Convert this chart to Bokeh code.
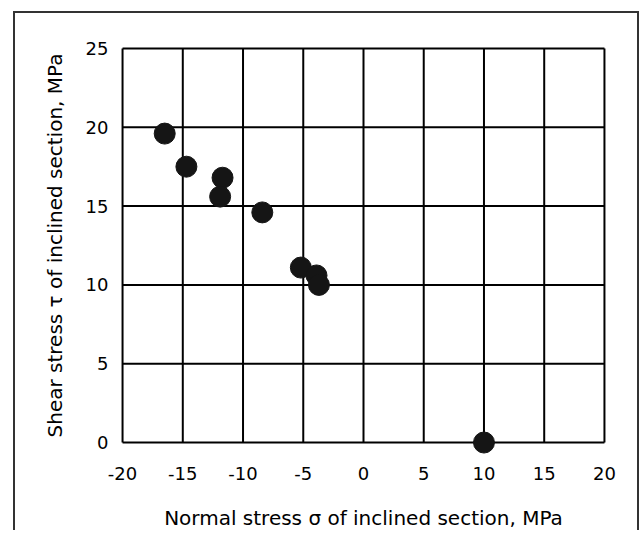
from bokeh.plotting import figure
from bokeh.models import Range1d, FixedTicker
from bokeh.embed import file_html
from bokeh.resources import INLINE

# data
sigma = [-16.5, -14.7, -11.7, -11.9, -8.4, -5.2, -3.9, -3.7, 10.0]
tau = [19.6, 17.5, 16.8, 15.6, 14.6, 11.1, 10.6, 10.0, 0.0]
x_ticks = [-20, -15, -10, -5, 0, 5, 10, 15, 20]
y_ticks = [0, 5, 10, 15, 20, 25]

FONT = "DejaVu Sans"

p = figure(width=626, height=519, output_backend="svg", toolbar_location=None,
           x_range=Range1d(-21, 21), y_range=Range1d(-0.76, 25.76),
           min_border_left=95, min_border_right=25,
           min_border_top=23, min_border_bottom=71)
p.margin = (11, 0, 0, 13)

p.styles = {"border-left": "2px solid #333", "border-top": "2px solid #333",
            "border-right": "2px solid #333"}

p.background_fill_color = "white"
p.border_fill_color = "white"
p.outline_line_color = None
p.xgrid.visible = False
p.ygrid.visible = False

for ax in (p.xaxis, p.yaxis):
    ax.axis_line_color = None
    ax.major_tick_line_color = None
    ax.minor_tick_line_color = None
    ax.major_label_text_font = FONT
    ax.major_label_text_font_size = "18px"
    ax.major_label_text_color = "black"
    ax.axis_label_text_font = FONT
    ax.axis_label_text_font_size = "20px"
    ax.axis_label_text_font_style = "normal"
    ax.axis_label_text_color = "black"

p.xaxis.ticker = FixedTicker(ticks=x_ticks)
p.yaxis.ticker = FixedTicker(ticks=y_ticks)
p.xaxis.major_label_overrides = {t: str(t) for t in x_ticks}
p.yaxis.major_label_overrides = {t: str(t) for t in y_ticks}
p.xaxis.major_label_standoff = 6
p.yaxis.major_label_standoff = -4
p.xaxis.axis_label_standoff = 23
p.yaxis.axis_label_standoff = 16
p.xaxis.axis_label = "Normal stress σ of inclined section, MPa"
p.yaxis.axis_label = "Shear stress τ of inclined section, MPa"

# grid and frame drawn from the tick lists
x0, x1 = x_ticks[0], x_ticks[-1]
y0, y1 = y_ticks[0], y_ticks[-1]
p.multi_line(xs=[[t, t] for t in x_ticks], ys=[[y0, y1] for _ in x_ticks],
             line_color="black", line_width=2)
p.multi_line(xs=[[x0, x1] for _ in y_ticks], ys=[[t, t] for t in y_ticks],
             line_color="black", line_width=2)

p.scatter(sigma, tau, size=21, color="#151515", marker="circle")

open("out.html", "w").write(file_html(p, INLINE))
